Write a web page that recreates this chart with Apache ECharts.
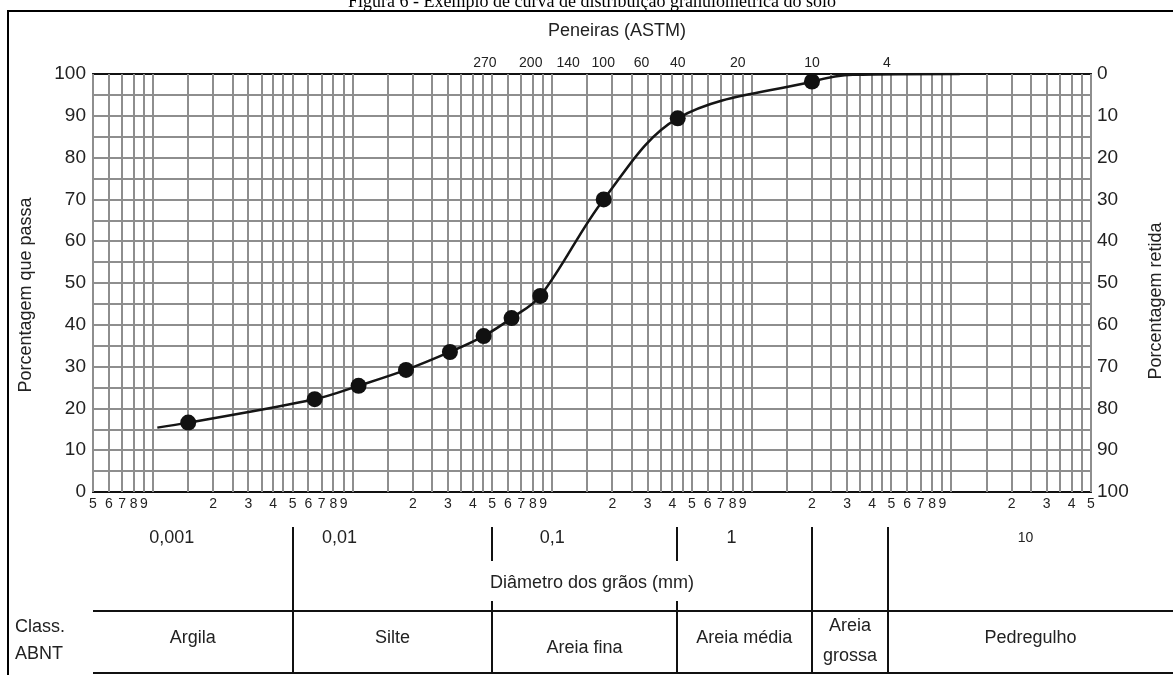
<!DOCTYPE html>
<html><head><meta charset="utf-8">
<script src="https://cdn.jsdelivr.net/npm/echarts@6/dist/echarts.min.js"></script>
<style>html,body{margin:0;padding:0;background:#fff;overflow:hidden}#c{width:1173px;height:675px}</style>
</head><body><div id="c"></div>
<script>
// ---- data ----
const curveDiam = [0.00105, 0.0015, 0.00645, 0.0107, 0.0185, 0.0307, 0.0453, 0.0625, 0.0871, 0.181, 0.425, 2.0, 3.2, 11];
const curvePass = [15.4, 16.6, 22.2, 25.4, 29.2, 33.5, 37.3, 41.6, 46.9, 70, 89.4, 98.2, 99.8, 100];
const pointDiam = [0.0015, 0.00645, 0.0107, 0.0185, 0.0307, 0.0453, 0.0625, 0.0871, 0.181, 0.425, 2.0];
const pointPass = [16.6, 22.2, 25.4, 29.2, 33.5, 37.3, 41.6, 46.9, 70, 89.4, 98.2];
const sieveNames = ['270', '200', '140', '100', '60', '40', '20', '10', '4'];
const sieveAt = [0.046, 0.078, 0.12, 0.18, 0.28, 0.425, 0.85, 2.0, 4.75];
const gridMantissas = [1, 1.5, 2, 2.5, 3, 3.5, 4, 4.5, 5, 6, 7, 8, 9];
const labelMantissas = [2, 3, 4, 5, 6, 7, 8, 9];
const decades = [0.0001, 0.001, 0.01, 0.1, 1, 10];
const xMin = 0.0005, xMax = 50;
const yTickLabels = [0, 10, 20, 30, 40, 50, 60, 70, 80, 90, 100];
const decadeNames = ['0,001', '0,01', '0,1', '1', '10'];
const decadeAt = [0.00124, 0.0086, 0.1, 0.79, 23.5];
const classNames = ['Argila', 'Silte', 'Areia fina', 'Areia média', 'Areia\ngrossa', 'Pedregulho'];
const classBounds = [0.005, 0.05, 0.42, 2.0, 4.8];

// ---- derived values ----
function inRange(v) { return v >= xMin * 0.9999 && v <= xMax * 1.0001; }
const gridVals = [];
decades.forEach(d => gridMantissas.forEach(m => { const v = +(m * d).toPrecision(6); if (inRange(v)) gridVals.push(v); }));
const labelVals = [];
decades.forEach(d => labelMantissas.forEach(m => { const v = +(m * d).toPrecision(6); if (inRange(v)) labelVals.push(v); }));
function mantissa(v) { const e = Math.floor(Math.log10(v) + 1e-9); return String(Math.round(v / Math.pow(10, e))); }
function sieveName(v) {
  let best = 0, bd = 1e9;
  sieveAt.forEach((s, i) => { const dd = Math.abs(Math.log10(s) - Math.log10(v)); if (dd < bd) { bd = dd; best = i; } });
  return sieveNames[best];
}

const SANS = '"Liberation Sans", Arial, sans-serif';
const GRID_COLOR = '#8e8e8e';
const TXT = '#222';

const option = {
  animation: false,
  backgroundColor: '#fff',
  grid: { left: 93, right: 76, top: 74, bottom: 183, containLabel: false },
  xAxis: [
    {
      type: 'log', logBase: 10, min: xMin, max: xMax, position: 'bottom',
      axisLine: { show: true, lineStyle: { color: '#111', width: 2 } },
      axisTick: { show: false },
      splitLine: { show: false },
      axisLabel: { customValues: labelVals, formatter: v => mantissa(v), margin: 5, color: TXT, fontSize: 14, fontFamily: SANS },
      name: 'Diâmetro dos grãos (mm)', nameLocation: 'middle', nameGap: 82,
      nameTextStyle: { color: TXT, fontSize: 18, fontFamily: SANS }
    },
    {
      type: 'log', logBase: 10, min: xMin, max: xMax, position: 'top',
      axisLine: { show: true, lineStyle: { color: '#111', width: 2 } },
      axisTick: { show: false },
      splitLine: { show: false },
      axisLabel: { customValues: sieveAt, formatter: v => sieveName(v), margin: 4, color: TXT, fontSize: 14, fontFamily: SANS },
      name: 'Peneiras (ASTM)', nameLocation: 'middle', nameGap: 34,
      nameTextStyle: { color: TXT, fontSize: 18, fontFamily: SANS, padding: [0, 0, 0, 50] }
    }
  ],
  yAxis: [
    {
      type: 'value', min: 0, max: 100, interval: 5, position: 'left',
      axisLine: { show: true, lineStyle: { color: '#111', width: 2 } },
      axisTick: { show: false },
      splitLine: { show: true, lineStyle: { color: GRID_COLOR, width: 2 } },
      axisLabel: { formatter: v => (yTickLabels.indexOf(v) >= 0 ? String(v) : ''), margin: 7, color: TXT, fontSize: 19, fontFamily: SANS },
      name: 'Porcentagem que passa', nameLocation: 'middle', nameRotate: 90, nameGap: 58,
      nameTextStyle: { color: TXT, fontSize: 18, fontFamily: SANS, padding: [0, 24, 0, 0] }
    },
    {
      type: 'value', min: 0, max: 100, interval: 5, inverse: true, position: 'right',
      axisLine: { show: true, lineStyle: { color: '#111', width: 2 } },
      axisTick: { show: false },
      splitLine: { show: false },
      axisLabel: { formatter: v => (yTickLabels.indexOf(v) >= 0 ? String(v) : ''), margin: 6, color: TXT, fontSize: 19, fontFamily: SANS },
      name: 'Porcentagem retida', nameLocation: 'middle', nameRotate: 90, nameGap: 56,
      nameTextStyle: { color: TXT, fontSize: 18, fontFamily: SANS, padding: [0, 36, 0, 0] }
    }
  ],
  series: [
    {
      type: 'custom', xAxisIndex: 0, yAxisIndex: 0, z: 1, silent: true, clip: false,
      data: gridVals.map(v => [v, 0]),
      encode: { x: 0, y: 1 },
      renderItem: (params, api) => {
        const v = api.value(0);
        const p1 = api.coord([v, 0]);
        const p2 = api.coord([v, 100]);
        const x = Math.round(p1[0]);
        return { type: 'line', shape: { x1: x, y1: p1[1], x2: x, y2: p2[1] }, style: { stroke: GRID_COLOR, lineWidth: 2 } };
      }
    },
    {
      type: 'line', xAxisIndex: 0, yAxisIndex: 0, z: 3, smooth: 0.35, symbol: 'none',
      lineStyle: { color: '#151515', width: 2.5 },
      data: curveDiam.map((d, i) => [d, curvePass[i]])
    },
    {
      type: 'scatter', xAxisIndex: 0, yAxisIndex: 0, z: 4, symbolSize: 16,
      itemStyle: { color: '#111', opacity: 1 },
      data: pointDiam.map((d, i) => [d, pointPass[i]])
    }
  ]
};

const chart = echarts.init(document.getElementById('c'), null, { renderer: 'canvas' });
chart.setOption(option);

// ---- table below the chart, x positions through the axis scale ----
const px = v => chart.convertToPixel({ xAxisIndex: 0 }, v);
const plotLeft = px(xMin);
const rightEdge = 1173;
const g = [];
g.push({ type: 'rect', shape: { x: 8, y: 11, width: 1200, height: 700 }, style: { fill: 'none', stroke: '#000', lineWidth: 2 }, silent: true });
g.push({ type: 'text', style: { text: 'Figura 6 - Exemplo de curva de distribuição granulométrica do solo', x: 592, y: 11, textAlign: 'center', textVerticalAlign: 'bottom', font: '18px "Liberation Serif", "Times New Roman", serif', fill: '#000' }, silent: true });

const topY = 527, rowY = 611, botY = 673;
[rowY, botY].forEach(y => g.push({ type: 'line', shape: { x1: plotLeft, y1: y, x2: rightEdge, y2: y }, style: { stroke: '#111', lineWidth: 2 }, silent: true }));
classBounds.forEach((b, i) => {
  const x = Math.round(px(b));
  const gap = (i === 1 || i === 2);
  if (gap) {
    g.push({ type: 'line', shape: { x1: x, y1: topY, x2: x, y2: 561 }, style: { stroke: '#111', lineWidth: 2 }, silent: true });
    g.push({ type: 'line', shape: { x1: x, y1: 601, x2: x, y2: botY }, style: { stroke: '#111', lineWidth: 2 }, silent: true });
  } else {
    g.push({ type: 'line', shape: { x1: x, y1: topY, x2: x, y2: botY }, style: { stroke: '#111', lineWidth: 2 }, silent: true });
  }
});
decadeNames.forEach((t, i) => {
  g.push({ type: 'text', style: { text: t, x: px(decadeAt[i]), y: 538, textAlign: 'center', textVerticalAlign: 'middle', font: (i === 4 ? '14px ' : '18px ') + SANS, fill: TXT }, silent: true });
});
const edges = [plotLeft].concat(classBounds.map(px)).concat([rightEdge]);
classNames.forEach((t, i) => {
  const cx = (edges[i] + edges[i + 1]) / 2;
  let cy = 638;
  if (i === 2) cy = 648;
  if (i === 4) cy = 641;
  g.push({ type: 'text', style: { text: t, x: cx, y: cy, textAlign: 'center', textVerticalAlign: 'middle', font: '18px ' + SANS, fill: TXT, lineHeight: 30 }, silent: true });
});
g.push({ type: 'text', style: { text: 'Class.\nABNT', x: 15, y: 641, textAlign: 'left', textVerticalAlign: 'middle', font: '18px ' + SANS, fill: TXT, lineHeight: 27 }, silent: true });
chart.setOption({ graphic: g });
</script>
</body></html>
